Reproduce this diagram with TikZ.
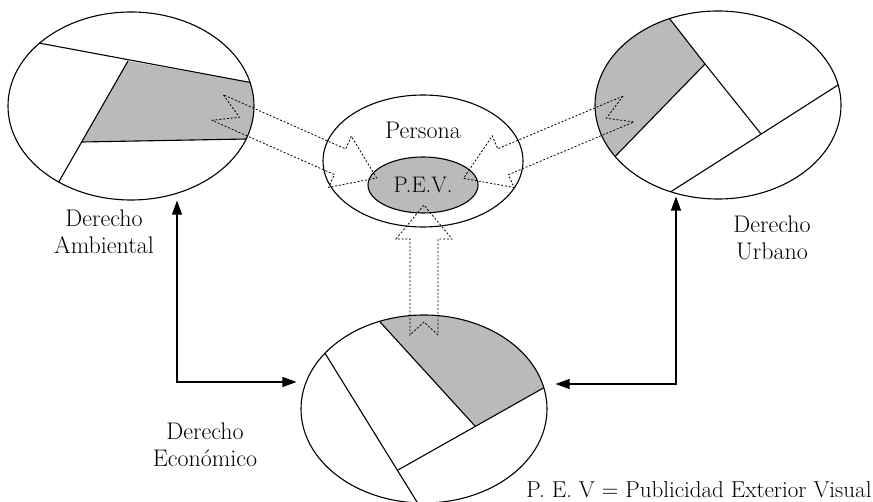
\documentclass[tikz,border=0pt]{standalone}
\usepackage{tikz}
\usetikzlibrary{shapes.geometric,arrows.meta,backgrounds}
\definecolor{grisfondo}{RGB}{185,186,188}
\tikzset{
  elipse/.style={draw, ellipse, line width=1.1pt, inner sep=0pt, minimum width=246pt, minimum height=188pt},
  trait/.style={line width=1.1pt},
  pointille/.style={line width=0.8pt, dash pattern=on 2pt off 1.8pt},
  fleche/.style={line width=1.1pt, {Triangle[length=14pt,width=10pt]}-{Triangle[length=14pt,width=10pt]}},
  etiquette/.style={align=center, font=\fontsize{24}{27}\selectfont}
}
% flèche creuse : origine, angle, longueur, encoche, longueur de la pointe
\newcommand{\flechecreuse}[5]{%
  \draw[pointille, shift={#1}, rotate=#2]
    (0,14) -- (#4,0) -- (0,-14) -- (#3-#5,-14) -- (#3-#5,-28) -- (#3,0)
    -- (#3-#5,28) -- (#3-#5,14) -- cycle;}

\begin{document}
\begin{tikzpicture}[x=1pt, y=-1pt]
    \useasboundingbox (0,0) rectangle (873,502);

    % Les trois domaines du droit
    \node[elipse] (amb) at (131,106) {};
    \node[elipse] (urb) at (718,105) {};
    \node[elipse] (eco) at (424,409) {};

    % La personne et la P.E.V. au centre
    \node[draw, ellipse, line width=1.1pt, minimum width=200pt, minimum height=132pt] (persona) at (423,161) {};
    \node[draw, ellipse, fill=grisfondo, line width=1.1pt, inner sep=0pt,
          minimum width=110pt, minimum height=56pt, font=\fontsize{22.5}{24}\selectfont] (pev) at (423,185) {P.E.V.};
    \node[etiquette, anchor=base] (tpersona) at (423,139) {Persona};

    % Découpage des ellipses (zones grises en arrière-plan)
    \begin{scope}[on background layer]
        \begin{scope}
            \clip (amb.center) ellipse [x radius=123pt, y radius=94pt];
            \fill[grisfondo] (128,61) -- (280,88) -- (280,139) -- (82,142) -- cycle;
            \draw[trait] (20,39.5) -- (280,88);
            \draw[trait] (128,61) -- (49,199);
            \draw[trait] (82,142) -- (280,138.4);
        \end{scope}
        \begin{scope}
            \clip (urb.center) ellipse [x radius=123pt, y radius=94pt];
            \fill[grisfondo] (655,0) -- (705,64) -- (600,172) -- (560,172) -- (560,0) -- cycle;
            \draw[trait] (655,0) -- (705,64) -- (600,172);
            \draw[trait] (705,64) -- (761,134);
            \draw[trait] (860,71) -- (650,205);
        \end{scope}
        \begin{scope}
            \clip (eco.center) ellipse [x radius=123pt, y radius=94pt];
            \fill[grisfondo] (360,300) -- (475,426) -- (570,373) -- (570,300) -- cycle;
            \draw[trait] (360,300) -- (475,426);
            \draw[trait] (398,470) -- (570,373);
            \draw[trait] (310,329) -- (430,523);
        \end{scope}
    \end{scope}

    % Flèches creuses vers la P.E.V.
    \flechecreuse{(217.5,107.5)}{-23.9}{174}{24}{40}
    \flechecreuse{(628.5,109)}{202.8}{179}{24}{43}
    \flechecreuse{(424,335)}{90}{130}{13}{34}

    % Liens entre les domaines
    \draw[fleche] ([xshift=46pt]amb.south) |- ([xshift=-4pt,yshift=27pt]eco.west);
    \draw[fleche] ([xshift=-42pt,yshift=3pt]urb.south) |- ([xshift=8pt,yshift=25pt]eco.east);

    % Étiquettes
    \node[etiquette] (tamb) at (104,232) {Derecho\\Ambiental};
    \node[etiquette] (turb) at (772,238) {Derecho\\Urbano};
    \node[etiquette] (teco) at (205,445) {Derecho\\Económico};
    \node[etiquette, anchor=base, font=\fontsize{23}{27}\selectfont] (note) at (699,497) {P. E. V = Publicidad Exterior Visual};
\end{tikzpicture}
\end{document}
